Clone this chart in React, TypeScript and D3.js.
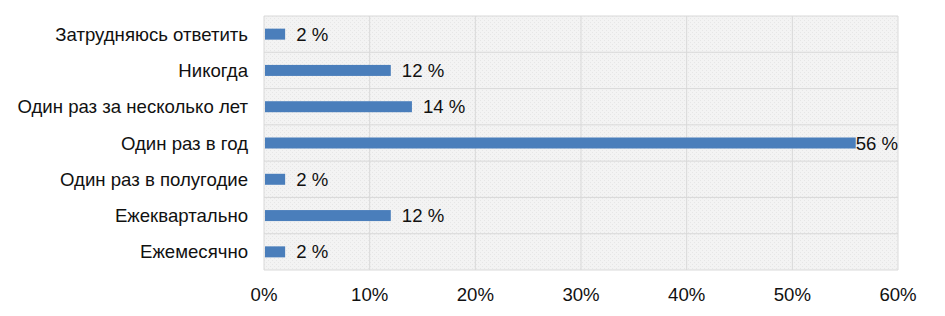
import React from "react";
import * as d3 from "d3";

const categories = [
  "Затрудняюсь ответить",
  "Никогда",
  "Один раз за несколько лет",
  "Один раз в год",
  "Один раз в полугодие",
  "Ежеквартально",
  "Ежемесячно",
];
const values = [2, 12, 14, 56, 2, 12, 2];
const ticks = [0, 10, 20, 30, 40, 50, 60];

const W = 945;
const H = 316;
const M = { left: 264, right: 47, top: 16, bottom: 46 };

export default function App() {
  const x = d3.scaleLinear().domain([0, 60]).range([M.left, W - M.right]);
  const y = d3.scaleBand().domain(categories).range([M.top, H - M.bottom]);
  const barH = 11;
  const font = "Liberation Sans, Arial, sans-serif";
  const fs = 18.6;
  return (
    <svg
      width={W}
      height={H}
      style={{ position: "absolute", left: 0, top: 0, background: "#fff" }}
    >
      <defs>
        <pattern id="dots" width="4" height="4" patternUnits="userSpaceOnUse">
          <rect width="4" height="4" fill="#f3f3f3" />
          <rect x="0" y="0" width="1" height="1" fill="#e6e6e6" />
          <rect x="2" y="2" width="1" height="1" fill="#e6e6e6" />
        </pattern>
      </defs>
      <rect
        x={M.left}
        y={M.top}
        width={x(60) - M.left}
        height={H - M.bottom - M.top}
        fill="url(#dots)"
      />
      {ticks.map((t) => (
        <line
          key={"v" + t}
          x1={x(t)}
          x2={x(t)}
          y1={M.top}
          y2={H - M.bottom}
          stroke="#d9d9d9"
          strokeWidth={1}
        />
      ))}
      {categories.map((c) => (
        <line
          key={"h" + c}
          x1={M.left}
          x2={x(60)}
          y1={y(c)!}
          y2={y(c)!}
          stroke="#d9d9d9"
          strokeWidth={1}
        />
      ))}
      <line
        x1={M.left}
        x2={x(60)}
        y1={H - M.bottom}
        y2={H - M.bottom}
        stroke="#d9d9d9"
      />
      {categories.map((c, i) => {
        const cy = y(c)! + y.bandwidth() / 2;
        return (
          <g key={c}>
            <rect
              x={x(0) + 1}
              y={cy - barH / 2}
              width={x(values[i]) - x(0) - 1}
              height={barH}
              fill="#4a7ebb"
            />
            <text
              x={values[i] > 50 ? x(values[i]) : x(values[i]) + 11}
              y={cy}
              dy="0.35em"
              fontSize={fs}
              fontFamily={font}
              fill="#111"
            >
              {values[i]} %
            </text>
            <text
              x={248}
              y={cy}
              dy="0.35em"
              textAnchor="end"
              fontSize={fs}
              fontFamily={font}
              fill="#111"
            >
              {c}
            </text>
          </g>
        );
      })}
      {ticks.map((t) => (
        <text
          key={"t" + t}
          x={x(t)}
          y={294}
          dy="0.35em"
          textAnchor="middle"
          fontSize={fs}
          fontFamily={font}
          fill="#111"
        >
          {t}%
        </text>
      ))}
    </svg>
  );
}
